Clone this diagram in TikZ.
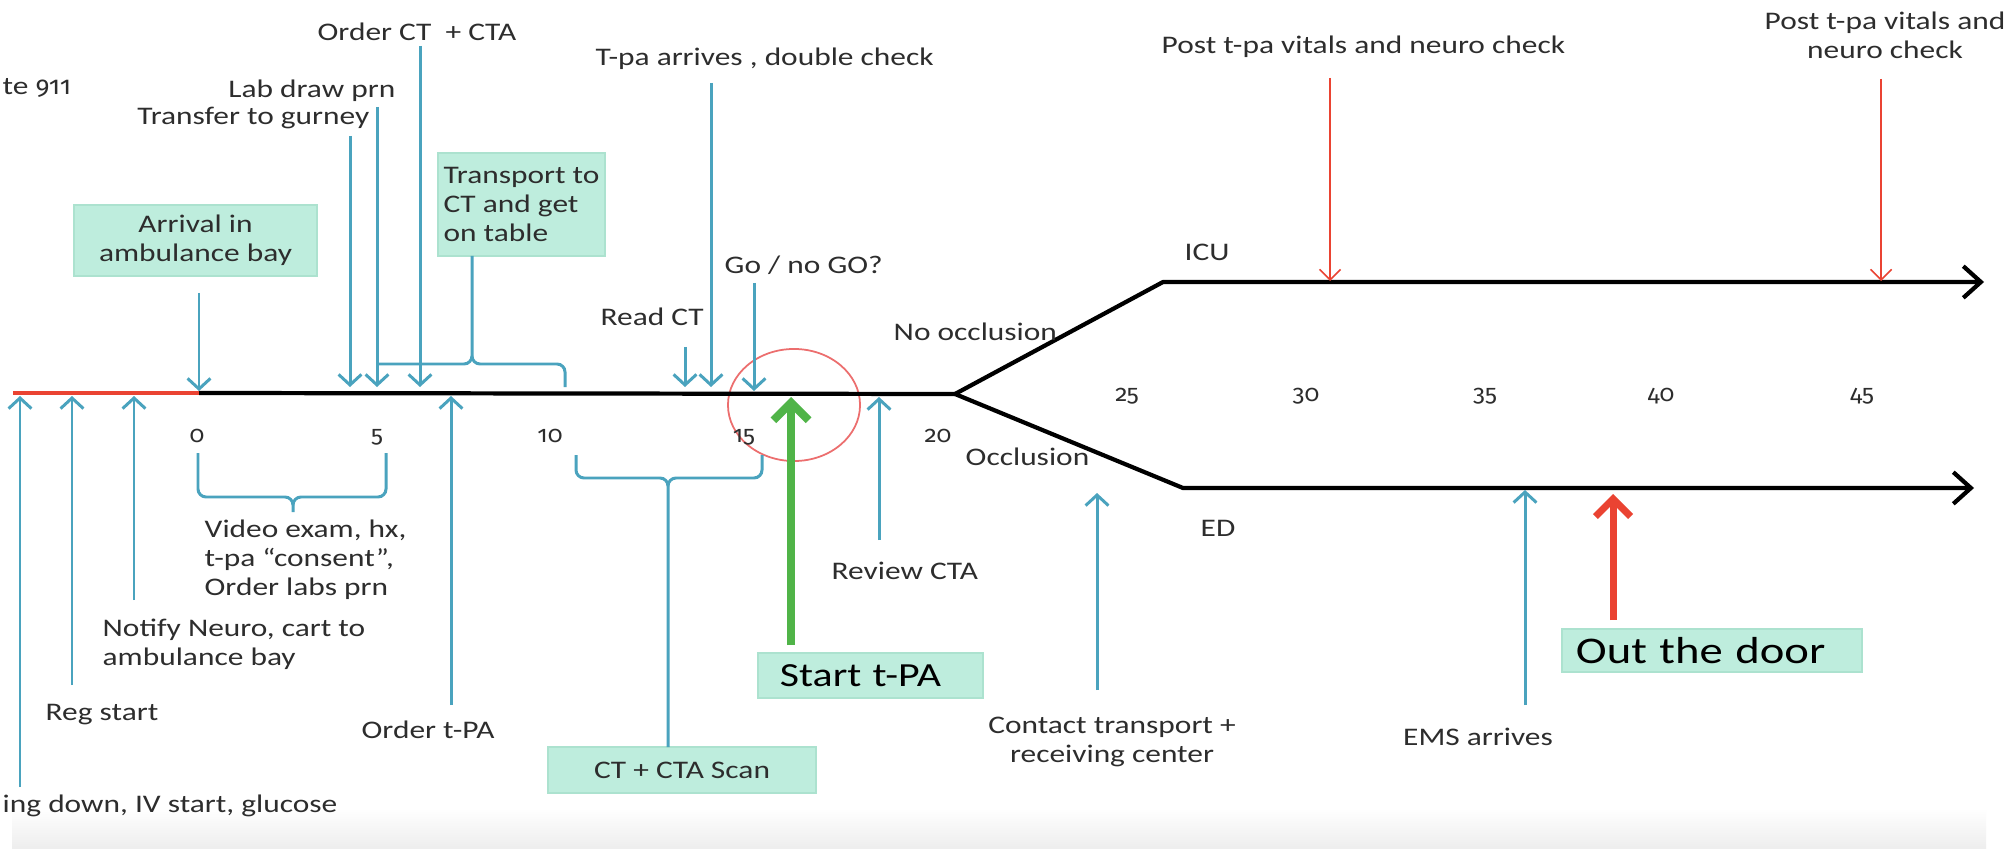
\documentclass[tikz,border=0pt]{standalone}
\usepackage{fontspec}
\setmainfont{Carlito}[FakeStretch=1.24,Numbers=OldStyle]
\newfontfamily\numfont{Fira Sans}[Numbers=OldStyle,FakeStretch=1.05]
\usetikzlibrary{arrows.meta}
\definecolor{tblue}{RGB}{74,163,190}
\definecolor{boxfill}{RGB}{190,237,221}
\definecolor{boxline}{RGB}{172,226,207}
\definecolor{tgreen}{RGB}{80,180,72}
\definecolor{tred}{RGB}{234,67,50}
\definecolor{tpink}{RGB}{236,110,110}
\definecolor{txt}{RGB}{45,45,45}
\begin{document}
\begin{tikzpicture}[x=0.01cm,y=-0.01cm,
  lbl/.style={font=\fontsize{7.2}{8.3}\selectfont, inner sep=0pt, text=txt},
  bx/.style={fill=boxfill, draw=boxline, line width=0.5pt, inner ysep=0pt, text=txt, font=\fontsize{7.2}{8.3}\selectfont},
  big/.style={text=black},
  num/.style={font=\numfont\fontsize{6.6}{8}\selectfont, inner sep=0pt, text=txt, anchor=base},
  blu/.style={draw=tblue, line width=0.85pt},
  upar/.style={blu, -{Straight Barb[length=3pt,width=6.5pt]}},
  brk/.style={draw=tblue, line width=0.85pt},
  blk/.style={draw=black, line width=1.2pt, line join=round},
  blkar/.style={blk, -{Straight Barb[length=5pt,width=9pt]}},
  thinred/.style={draw=tred, line width=0.45pt, -{Straight Barb[length=3pt,width=6pt]}},
  grn/.style={draw=tgreen, line width=2.3pt, -{Straight Barb[length=5pt,width=10pt]}},
  bigred/.style={draw=tred, line width=2pt, -{Straight Barb[length=5pt,width=10pt]}}
]
\useasboundingbox (0,0) rectangle (2007,849);
\clip (0,0) rectangle (2007,849);
\fill[white] (0,0) rectangle (2007,849);
\shade[top color=white, bottom color=black!7] (12,808) rectangle (1986,849);

% timeline
\coordinate (L0) at (13,393);
\coordinate (T0) at (199,393);
\coordinate (B) at (955,394);
\coordinate (U) at (1163,282);
\coordinate (UE) at (1984,282);
\coordinate (D) at (1183,488);
\coordinate (DE) at (1974,488);

\draw[tpink, line width=0.5pt] (794,405) ellipse [x radius=0.66cm, y radius=0.56cm];

\draw[draw=tred, line width=1.1pt] (L0) -- (T0);
\draw[blk] (T0) -- (B);
\draw[blkar] (B) -- (U) -- (UE);
\draw[blkar] (B) -- (D) -- (DE);

% numbers
\node[num] (n0) at (197,442) {0};
\node[num] (n5) at (377,442) {5};
\node[num] (n10) at (550,442) {10};
\node[num] (n15) at (744,442) {15};
\node[num] (n20) at (938,442) {20};
\node[num] (n25) at (1127,401) {25};
\node[num] (n30) at (1306,401) {30};
\node[num] (n35) at (1485,401) {35};
\node[num] (n40) at (1661,401) {40};
\node[num] (n45) at (1862,401) {45};

% labels
\node[lbl,anchor=west] (te) at (2,88) {te {\numfont 911}};
\node[lbl,anchor=east] (transfer) at (370,118) {Transfer to gurney};
\node[lbl,anchor=east] (labdraw) at (396,91) {Lab draw prn};
\node[lbl,anchor=west] (orderct) at (317,32) {Order CT\ \ + CTA};
\node[lbl,anchor=west] (tpaarr) at (595,59) {T-pa arrives , double check};
\node[lbl,anchor=west] (readct) at (600,317) {Read CT};
\node[lbl,anchor=west] (gonogo) at (724,265) {Go / no GO?};
\node[lbl,anchor=west] (noocc) at (893,332) {No occlusion};
\node[lbl,anchor=west] (occ) at (965,457) {Occlusion};
\node[lbl,anchor=west] (icu) at (1184,252) {ICU};
\node[lbl,anchor=west] (ed) at (1200,528) {ED};
\node[lbl,anchor=west] (post1) at (1161,47) {Post t-pa vitals and neuro check};
\node[lbl,align=center] (post2) at (1885,35) {Post t-pa vitals and\\neuro check};
\node[lbl,anchor=west,align=left] (video) at (204,560) {Video exam, hx,\\t-pa “consent”,\\Order labs prn};
\node[lbl,anchor=west,align=left] (notify) at (102,644) {Notify Neuro, cart to\\ambulance bay};
\node[lbl,anchor=west] (reg) at (45,715) {Reg start};
\node[lbl,anchor=west] (ing) at (2,806) {ing down, IV start, glucose};
\node[lbl,anchor=west] (ordertpa) at (361,730) {Order t-PA};
\node[lbl,anchor=west] (review) at (831,571) {Review CTA};
\node[lbl,align=center] (contact) at (1112,742) {Contact transport +\\receiving center};
\node[lbl] (ems) at (1478,737) {EMS arrives};

% boxes
\node[bx, minimum width=2.43cm, minimum height=0.71cm, align=center] (arrival) at (195.5,240.5) {Arrival in\\ambulance bay};
\node[bx, minimum width=1.67cm, minimum height=1.03cm, inner xsep=0.02cm, align=left] (transport) at (521.5,204.5) {Transport to\\CT and get\\on table};
\node[bx, minimum width=2.68cm, minimum height=0.46cm] (ctscan) at (682,770) {CT + CTA Scan};
\node[bx, big, font=\fontsize{9.6}{11}\selectfont, minimum width=2.25cm, minimum height=0.45cm, text width=1.81cm, inner xsep=0.22cm, align=left] (start) at (870.5,675.5) {Start t-PA};
\node[bx, big, font=\fontsize{10.7}{12}\selectfont, minimum width=3.0cm, minimum height=0.43cm, text width=2.72cm, inner xsep=0.14cm, align=left] (out) at (1712,650.5) {Out the door};

% brackets
\draw[brk] (198,453) -- (198,489) to[out=-90,in=180] (206,497) -- (285,497) to[out=0,in=90] (293,505) -- (293,512);
\draw[brk] (386,453) -- (386,489) to[out=-90,in=0] (378,497) -- (301,497) to[out=180,in=90] (293,505);

\draw[brk] (576,455) -- (576,470) to[out=-90,in=180] (584,478) -- (660,478) to[out=0,in=90] (668,486) -- (668,747);
\draw[brk] (762,455) -- (762,470) to[out=-90,in=0] (754,478) -- (676,478) to[out=180,in=90] (668,486);

\draw[brk] (379,364) -- (464,364) to[out=0,in=-90] (472,356) -- (472,256);
\draw[brk] (565,387) -- (565,372) to[out=90,in=0] (557,364) -- (480,364) to[out=180,in=-90] (472,356);

% up arrows
\coordinate (a1s) at (20,787);   \coordinate (a1e) at (20,396);
\coordinate (a2s) at (72,685);   \coordinate (a2e) at (72,396);
\coordinate (a3s) at (134,600);  \coordinate (a3e) at (134,396);
\coordinate (a4s) at (451,705);  \coordinate (a4e) at (451,396);
\coordinate (a5s) at (879,540);  \coordinate (a5e) at (879,397);
\coordinate (a6s) at (1097,690); \coordinate (a6e) at (1097,493);
\coordinate (a7s) at (1525,705); \coordinate (a7e) at (1525,490);
\draw[upar] (a1s) -- (a1e);
\draw[upar] (a2s) -- (a2e);
\draw[upar] (a3s) -- (a3e);
\draw[upar] (a4s) -- (a4e);
\draw[upar] (a5s) -- (a5e);
\draw[upar] (a6s) -- (a6e);
\draw[upar] (a7s) -- (a7e);

% down arrows
\coordinate (d1s) at (199,293); \coordinate (d1e) at (199,391);
\coordinate (d2s) at (350,136); \coordinate (d2e) at (350,387);
\coordinate (d3s) at (377,107); \coordinate (d3e) at (377,387);
\coordinate (d4s) at (420,46);  \coordinate (d4e) at (420,387);
\coordinate (d5s) at (685,347); \coordinate (d5e) at (685,387);
\coordinate (d6s) at (711,83);  \coordinate (d6e) at (711,387);
\coordinate (d7s) at (754,283); \coordinate (d7e) at (754,391);
\draw[upar] (d1s) -- (d1e);
\draw[upar] (d2s) -- (d2e);
\draw[upar] (d3s) -- (d3e);
\draw[upar] (d4s) -- (d4e);
\draw[upar] (d5s) -- (d5e);
\draw[upar] (d6s) -- (d6e);
\draw[upar] (d7s) -- (d7e);

% red thin
\coordinate (r1s) at (1330,78); \coordinate (r1e) at (1330,281);
\coordinate (r2s) at (1881,79); \coordinate (r2e) at (1881,281);
\draw[thinred] (r1s) -- (r1e);
\draw[thinred] (r2s) -- (r2e);

% green and big red
\coordinate (gs) at (791,645); \coordinate (ge) at (791,397);
\draw[grn] (gs) -- (ge);
\coordinate (os) at (1613,620); \coordinate (oe) at (1613,494);
\draw[bigred] (os) -- (oe);
\end{tikzpicture}
\end{document}
